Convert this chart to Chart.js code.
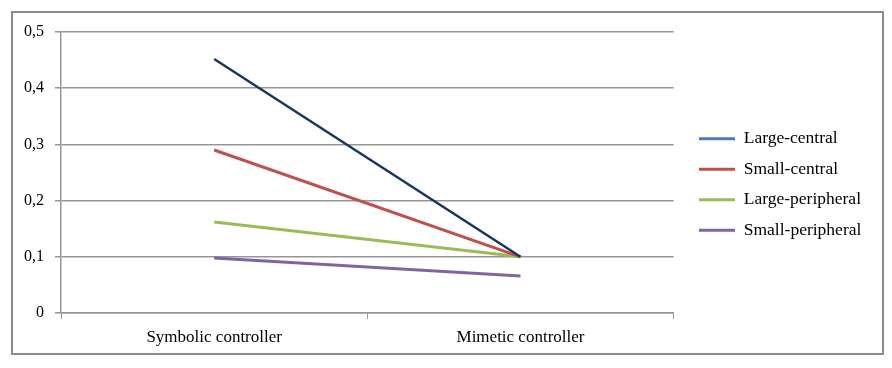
<!DOCTYPE html>
<html>
<head>
<meta charset="utf-8">
<script src="https://cdn.jsdelivr.net/npm/chart.js@4/dist/chart.umd.min.js"></script>
<style>
  html, body { margin: 0; padding: 0; background: #fff; }
  #wrap { width: 892px; height: 368px; }
</style>
</head>
<body>
<div id="wrap"><canvas id="chart_controllerLines" width="892" height="368"></canvas></div>
<script>
var categories = ['Symbolic controller', 'Mimetic controller'];
var seriesNames = ['Large-central', 'Small-central', 'Large-peripheral', 'Small-peripheral'];
var largeCentral = [0.452, 0.1];
var smallCentral = [0.29, 0.1];
var largePeripheral = [0.162, 0.1];
var smallPeripheral = [0.098, 0.066];
var yTicks = [0, 0.1, 0.2, 0.3, 0.4, 0.5];

var lineColors = ['#17375E', '#C0504D', '#9BBB59', '#8064A2'];
var legendColors = ['#4A7EBB', '#C0504D', '#9BBB59', '#8064A2'];
var seriesValues = [largeCentral, smallCentral, largePeripheral, smallPeripheral];

var serif = "'Liberation Serif', 'Times New Roman', serif";
var gridGrey = '#959595';

var chart_controllerLines = new Chart(document.getElementById('chart_controllerLines'), {
    type: 'line',
    data: {
        labels: categories,
        datasets: seriesNames.map(function (name, i) {
            return {
                label: name,
                data: seriesValues[i],
                borderColor: lineColors[i],
                backgroundColor: lineColors[i],
                borderWidth: i === 0 ? 2.5 : 3,
                pointRadius: 0,
                tension: 0
            };
        })
    },
    options: {
        animation: false,
        responsive: false,
        layout: {
            padding: { top: 32, left: 12, right: 33, bottom: 13 }
        },
        plugins: {
            tooltip: { enabled: false },
            legend: {
                position: 'right',
                align: 'center',
                labels: {
                    font: { family: serif, size: 17.5 },
                    color: '#000',
                    boxWidth: 36,
                    boxHeight: 3,
                    padding: 13,
                    generateLabels: function (chart) {
                        return chart.data.datasets.map(function (ds, i) {
                            return {
                                text: ds.label,
                                fillStyle: legendColors[i],
                                strokeStyle: legendColors[i],
                                lineWidth: 0,
                                fontColor: '#000',
                                datasetIndex: i
                            };
                        });
                    }
                }
            }
        },
        scales: {
            x: {
                offset: true,
                grid: {
                    offset: true,
                    drawOnChartArea: false,
                    drawTicks: true,
                    tickLength: 6,
                    color: gridGrey
                },
                border: { color: gridGrey, width: 1.5 },
                ticks: {
                    font: { family: serif, size: 17 },
                    color: '#000',
                    padding: 8,
                    maxRotation: 0
                },
                afterFit: function (scale) { scale.height = 42; }
            },
            y: {
                min: 0,
                max: 0.5,
                afterBuildTicks: function (scale) {
                    scale.ticks = yTicks.map(function (v) { return { value: v }; });
                },
                grid: {
                    color: gridGrey,
                    lineWidth: 1.5,
                    tickLength: 6
                },
                border: { color: gridGrey, width: 1.5 },
                ticks: {
                    font: { family: serif, size: 16 },
                    color: '#000',
                    padding: 11,
                    callback: function (v) {
                        return v === 0 ? '0' : v.toFixed(1).replace('.', ',');
                    }
                },
                afterFit: function (scale) { scale.width = 49; }
            }
        }
    },
    plugins: [{
        id: 'frame',
        afterLayout: function (chart) {
            // nudge the legend away from the plot, as in the original
            var lg = chart.legend;
            var dx = 673 - chart.chartArea.right + 13;
            lg.left += dx; lg.right += dx;
            lg.top -= 9; lg.bottom -= 9;
        },
        beforeDraw: function (chart) {
            var ctx = chart.ctx;
            ctx.save();
            ctx.fillStyle = 'white';
            ctx.fillRect(0, 0, chart.width, chart.height);
            ctx.strokeStyle = '#8c8c8c';
            ctx.lineWidth = 2;
            ctx.strokeRect(12, 12, 871, 342);
            ctx.restore();
        }
    }]
});
</script>
</body>
</html>
